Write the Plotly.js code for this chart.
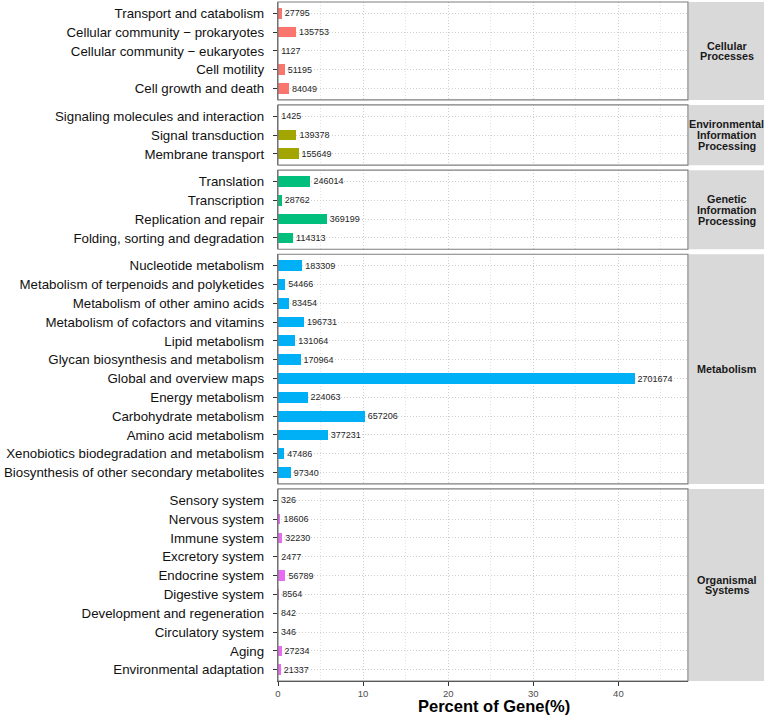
<!DOCTYPE html>
<html>
<head>
<meta charset="utf-8">
<script src="https://cdn.plot.ly/plotly-3.0.1.min.js"></script>
<style>
  html, body { margin: 0; padding: 0; background: #fff; }
  #chart { width: 767px; height: 716px; }
</style>
</head>
<body>
<div id="chart"></div>
<script>
// KEGG level-2 pathways, listed top to bottom as in the figure
const groups = [['Cellular', 'Processes'], ['Environmental', 'Information', 'Processing'], ['Genetic', 'Information', 'Processing'], ['Metabolism'], ['Organismal', 'Systems']];
const colors = ['#F8766D', '#A3A500', '#00BF7D', '#00B0F6', '#E76BF3'];

const cellularNames = ['Transport and catabolism', 'Cellular community − prokaryotes', 'Cellular community − eukaryotes', 'Cell motility', 'Cell growth and death'];
const cellularCounts = [27795, 135753, 1127, 51195, 84049];

const envNames = ['Signaling molecules and interaction', 'Signal transduction', 'Membrane transport'];
const envCounts = [1425, 139378, 155649];

const geneticNames = ['Translation', 'Transcription', 'Replication and repair', 'Folding, sorting and degradation'];
const geneticCounts = [246014, 28762, 369199, 114313];

const metabNames = ['Nucleotide metabolism', 'Metabolism of terpenoids and polyketides', 'Metabolism of other amino acids',
    'Metabolism of cofactors and vitamins', 'Lipid metabolism', 'Glycan biosynthesis and metabolism', 'Global and overview maps',
    'Energy metabolism', 'Carbohydrate metabolism', 'Amino acid metabolism', 'Xenobiotics biodegradation and metabolism',
    'Biosynthesis of other secondary metabolites'];
const metabCounts = [183309, 54466, 83454, 196731, 131064, 170964, 2701674, 224063, 657206, 377231, 47486, 97340];

const organNames = ['Sensory system', 'Nervous system', 'Immune system', 'Excretory system', 'Endocrine system', 'Digestive system',
    'Development and regeneration', 'Circulatory system', 'Aging', 'Environmental adaptation'];
const organCounts = [326, 18606, 32230, 2477, 56789, 8564, 842, 346, 27234, 21337];

const names = [cellularNames, envNames, geneticNames, metabNames, organNames];
const counts = [cellularCounts, envCounts, geneticCounts, metabCounts, organCounts];

const total = counts.flat().reduce((a, b) => a + b, 0);
const maxPct = Math.max(...counts.flat()) / total * 100;

const W = 767, H = 716;
const margin = {l: 278, r: 79, t: 2, b: 35};
const gap = 5;
const plotH = H - margin.t - margin.b;
const units = names.reduce((s, n) => s + n.length + 0.2, 0);
const unit = (plotH - gap * (names.length - 1)) / units;

const font = 'Liberation Sans, Arial, sans-serif';
const dots = '1px,2px';
const data = [];
const shapes = [];
const annotations = [];
const layout = {
    width: W, height: H,
    margin: margin,
    paper_bgcolor: '#fff',
    plot_bgcolor: '#fff',
    showlegend: false,
    bargap: 0,
    font: {family: font, color: '#1a1a1a'},
};

let offset = 0; // pixels from top of plot area
names.forEach((cats, i) => {
    const k = i + 1;
    const sfx = k === 1 ? '' : String(k);
    const h = (cats.length + 0.2) * unit;
    const d1 = 1 - offset / plotH;
    const d0 = Math.max(0, 1 - (offset + h) / plotH);
    offset += h + gap;

    data.push({
        type: 'bar',
        orientation: 'h',
        y: cats,
        x: counts[i].map(v => v / total * 100),
        width: 0.57,
        marker: {color: colors[i], line: {width: 0}},
        text: counts[i].map(String),
        textposition: 'outside',
        textfont: {size: 9, color: '#262626', family: font},
        constraintext: 'none',
        cliponaxis: false,
        xaxis: 'x' + sfx,
        yaxis: 'y' + sfx,
        hoverinfo: 'skip',
    });

    const last = k === names.length;
    layout['xaxis' + sfx] = {
        domain: [0, 1],
        anchor: 'y' + sfx,
        range: [0, maxPct * 1.15],
        tick0: 0, dtick: 10,
        showgrid: true, gridcolor: '#cfcfcf', griddash: dots, gridwidth: 1,
        minor: {dtick: 5, showgrid: true, gridcolor: '#e2e2e2', griddash: dots, gridwidth: 1},
        zeroline: false,
        showticklabels: last,
        ticks: last ? 'outside' : '',
        ticklen: 4, tickcolor: '#333',
        ticklabelstandoff: -1,
        tickfont: {size: 9.5, color: '#4d4d4d', family: font},
        showline: last, linecolor: '#333', linewidth: 1.2,
        fixedrange: true,
    };
    if (k > 1) layout['xaxis' + sfx].matches = 'x';

    layout['yaxis' + sfx] = {
        domain: [d0, d1],
        anchor: 'x' + sfx,
        type: 'category',
        range: [cats.length - 0.4, -0.6],
        showgrid: true, gridcolor: '#cfcfcf', griddash: dots, gridwidth: 1,
        zeroline: false,
        ticks: 'outside', ticklen: 4, tickcolor: '#333', tickwidth: 1,
        ticklabelstandoff: 6,
        tickfont: {size: 13.3, color: '#111', family: font},
        showline: true, linecolor: '#666', linewidth: 1.2,
        fixedrange: true,
    };

    // panel border
    shapes.push({
        type: 'rect', xref: 'x' + sfx + ' domain', yref: 'y' + sfx + ' domain',
        x0: 0, x1: 1, y0: 0, y1: 1,
        line: {color: '#7f7f7f', width: 1.2}, fillcolor: 'rgba(0,0,0,0)', layer: 'above',
    });
    // facet strip on the right
    shapes.push({
        type: 'rect', xref: 'paper', yref: 'y' + sfx + ' domain',
        x0: 1.0025, x1: 1.1855, y0: 0, y1: 1,
        line: {width: 0}, fillcolor: '#d9d9d9', layer: 'below',
    });
    const lines = groups[i];
    lines.forEach((ln, j) => {
        annotations.push({
            xref: 'paper', yref: 'y' + sfx + ' domain',
            x: 1.094, y: 0.5, xanchor: 'center', yanchor: 'middle',
            yshift: ((lines.length - 1) / 2 - j) * 10.8,
            text: '<b>' + ln + '</b>', showarrow: false,
            font: {size: 10.8, color: '#1a1a1a', family: font},
        });
    });
});

annotations.push({
    xref: 'paper', yref: 'paper', x: 0.527, y: -0.0365,
    xanchor: 'center', yanchor: 'middle', showarrow: false,
    text: '<b>Percent of Gene(%)</b>',
    font: {size: 16.5, color: '#000', family: font},
});

layout.shapes = shapes;
layout.annotations = annotations;

Plotly.newPlot('chart', data, layout, {displayModeBar: false, staticPlot: true});
</script>
</body>
</html>
